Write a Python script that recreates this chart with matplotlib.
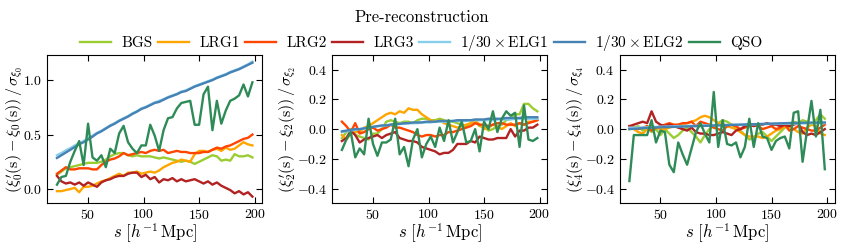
import numpy as np
import matplotlib
matplotlib.use("Agg")
import matplotlib.pyplot as plt

plt.rcParams["font.family"] = "serif"
plt.rcParams["font.serif"] = ["cmr10"]
plt.rcParams["mathtext.fontset"] = "cm"
plt.rcParams["axes.formatter.use_mathtext"] = True

# séparations s (h^-1 Mpc)
s = np.arange(22, 199, 4)

labels = ["BGS", "LRG1", "LRG2", "LRG3",
          r"$1/30\times\mathrm{ELG1}$", r"$1/30\times\mathrm{ELG2}$", "QSO"]
colors = ["yellowgreen", "orange", "orangered", "firebrick",
          "skyblue", "steelblue", "seagreen"]

# --- monopole ---
bgs0 = [0.13, 0.16, 0.19, 0.20, 0.21, 0.22, 0.23, 0.24, 0.24, 0.24, 0.25, 0.27, 0.30, 0.32, 0.33,
        0.33, 0.31, 0.30, 0.31, 0.30, 0.30, 0.30, 0.29, 0.28, 0.29, 0.28, 0.27, 0.26, 0.25, 0.26,
        0.25, 0.23, 0.25, 0.27, 0.29, 0.31, 0.30, 0.26, 0.27, 0.26, 0.32, 0.30, 0.30, 0.31, 0.29]
lrg1_0 = [-0.02, -0.02, -0.01, 0.00, 0.01, -0.03, 0.02, 0.02, 0.03, 0.05, 0.07, 0.08, 0.10, 0.12, 0.14,
          0.12, 0.15, 0.15, 0.16, 0.14, 0.15, 0.16, 0.15, 0.17, 0.20, 0.22, 0.24, 0.25, 0.27, 0.26,
          0.25, 0.32, 0.35, 0.35, 0.34, 0.36, 0.37, 0.35, 0.38, 0.36, 0.37, 0.40, 0.43, 0.41, 0.40]
lrg2_0 = [0.14, 0.17, 0.20, 0.18, 0.18, 0.19, 0.19, 0.19, 0.18, 0.18, 0.22, 0.25, 0.27, 0.28, 0.30,
          0.33, 0.31, 0.32, 0.33, 0.34, 0.33, 0.35, 0.36, 0.35, 0.36, 0.33, 0.34, 0.35, 0.34, 0.34,
          0.33, 0.33, 0.33, 0.34, 0.34, 0.36, 0.38, 0.37, 0.39, 0.40, 0.42, 0.44, 0.46, 0.47, 0.50]
lrg3_0 = [0.12, 0.07, 0.05, 0.06, 0.04, 0.06, 0.03, 0.06, 0.04, 0.02, 0.06, 0.08, 0.09, 0.11, 0.12,
          0.12, 0.14, 0.15, 0.15, 0.11, 0.13, 0.09, 0.11, 0.06, 0.09, 0.08, 0.10, 0.07, 0.09, 0.07,
          0.08, 0.09, 0.07, 0.05, 0.07, 0.04, 0.06, 0.03, 0.01, -0.01, -0.04, -0.02, -0.05, -0.03, -0.07]
elg1_0 = [0.31, 0.33, 0.355, 0.375, 0.40, 0.42, 0.44, 0.465, 0.49, 0.515, 0.535, 0.56, 0.585, 0.605, 0.63,
          0.65, 0.67, 0.695, 0.715, 0.74, 0.755, 0.775, 0.795, 0.81, 0.825, 0.845, 0.86, 0.875, 0.895, 0.905,
          0.925, 0.945, 0.96, 0.975, 0.99, 1.005, 1.025, 1.04, 1.055, 1.075, 1.09, 1.105, 1.125, 1.145, 1.17]
elg2_0 = [0.285, 0.31, 0.335, 0.36, 0.385, 0.41, 0.43, 0.455, 0.48, 0.51, 0.53, 0.555, 0.58, 0.60, 0.625,
          0.645, 0.665, 0.69, 0.71, 0.735, 0.75, 0.77, 0.79, 0.80, 0.82, 0.84, 0.855, 0.87, 0.89, 0.90,
          0.92, 0.94, 0.955, 0.97, 0.985, 1.00, 1.02, 1.035, 1.05, 1.07, 1.085, 1.10, 1.12, 1.14, 1.16]
qso0 = [0.04, 0.11, 0.12, 0.25, 0.35, 0.44, 0.22, 0.60, 0.29, 0.26, 0.31, 0.20, 0.37, 0.33, 0.51,
        0.58, 0.43, 0.37, 0.33, 0.40, 0.40, 0.59, 0.49, 0.35, 0.54, 0.65, 0.66, 0.74, 0.79, 0.80,
        0.81, 0.59, 0.59, 0.87, 0.94, 0.54, 0.81, 0.60, 0.72, 0.81, 0.83, 0.86, 0.96, 0.85, 0.98]

# --- quadrupole ---
bgs2 = [-0.06, -0.02, 0.00, -0.04, -0.05, -0.06, -0.07, -0.03, -0.03, 0.00, 0.05, 0.06, 0.05, 0.04, 0.05,
        0.05, 0.04, 0.06, 0.07, 0.07, 0.06, 0.06, 0.07, 0.06, 0.05, 0.05, 0.04, 0.03, 0.02, 0.04,
        0.05, 0.02, 0.02, -0.01, 0.00, 0.02, 0.03, 0.06, 0.07, 0.10, 0.10, 0.17, 0.17, 0.14, 0.12]
lrg1_2 = [-0.04, -0.07, -0.03, -0.02, -0.02, 0.01, 0.02, 0.04, 0.06, 0.08, 0.10, 0.11, 0.10, 0.12, 0.11,
          0.14, 0.13, 0.13, 0.10, 0.08, 0.06, 0.05, 0.06, 0.04, 0.03, 0.02, 0.01, 0.02, 0.03, 0.04,
          0.06, 0.03, 0.00, 0.01, 0.03, 0.02, 0.00, 0.02, 0.04, 0.02, 0.04, 0.03, 0.05, 0.05, 0.06]
lrg2_2 = [0.05, 0.02, -0.02, 0.04, -0.03, -0.02, 0.00, 0.01, -0.01, 0.00, 0.01, 0.03, 0.01, 0.01, 0.00,
          -0.01, -0.02, -0.04, -0.05, -0.04, -0.04, -0.05, -0.04, -0.04, -0.02, -0.02, -0.01, 0.00, 0.01, 0.02,
          0.04, 0.03, 0.03, 0.02, 0.03, 0.04, 0.04, 0.03, 0.03, 0.03, 0.04, 0.03, 0.04, 0.05, 0.06]
lrg3_2 = [-0.08, -0.06, -0.01, -0.04, -0.09, -0.07, -0.06, -0.05, -0.04, -0.06, -0.04, -0.03, -0.02, -0.06, -0.07,
          -0.08, -0.08, -0.09, -0.12, -0.13, -0.14, -0.15, -0.17, -0.16, -0.16, -0.14, -0.10, -0.10, -0.10, -0.08,
          -0.09, -0.05, -0.06, -0.07, -0.07, -0.06, -0.06, -0.06, 0.00, -0.05, -0.01, -0.01, 0.01, 0.01, 0.03]
elg1_2 = [-0.02, -0.015, -0.01, -0.005, 0.00, 0.005, 0.01, 0.015, 0.02, 0.02, 0.025, 0.03, 0.03, 0.035, 0.035,
          0.04, 0.04, 0.04, 0.045, 0.045, 0.045, 0.05, 0.05, 0.05, 0.05, 0.055, 0.055, 0.055, 0.055, 0.06,
          0.06, 0.06, 0.06, 0.06, 0.06, 0.065, 0.065, 0.065, 0.065, 0.07, 0.07, 0.07, 0.07, 0.07, 0.07]
elg2_2 = [-0.015, -0.01, -0.005, 0.00, 0.00, 0.005, 0.01, 0.015, 0.02, 0.025, 0.025, 0.03, 0.035, 0.035, 0.04,
          0.04, 0.045, 0.045, 0.045, 0.05, 0.05, 0.05, 0.055, 0.055, 0.055, 0.055, 0.06, 0.06, 0.06, 0.06,
          0.065, 0.065, 0.065, 0.07, 0.07, 0.07, 0.07, 0.075, 0.075, 0.075, 0.075, 0.08, 0.08, 0.08, 0.08]
qso2 = [-0.14, -0.07, -0.02, -0.19, -0.13, -0.17, 0.07, -0.10, -0.18, -0.09, -0.09, -0.07, 0.07, -0.17, -0.12,
        -0.25, -0.07, 0.00, -0.19, -0.10, -0.05, -0.12, 0.01, -0.08, 0.06, -0.09, -0.02, 0.05, -0.09, -0.08,
        0.00, -0.15, 0.05, 0.00, 0.12, -0.02, 0.07, 0.12, 0.09, 0.11, -0.12, 0.16, -0.07, -0.08, -0.06]

# --- hexadecapole ---
bgs4 = [0.00, 0.01, 0.02, -0.01, 0.02, -0.02, 0.00, -0.04, 0.00, -0.03, -0.06, -0.04, -0.01, 0.01, -0.02,
        -0.05, -0.09, -0.04, 0.00, 0.02, 0.04, 0.06, 0.05, 0.03, 0.01, -0.01, -0.04, -0.07, -0.06, -0.03,
        -0.02, -0.05, -0.08, -0.05, -0.02, 0.01, 0.03, 0.05, 0.04, 0.06, 0.05, 0.03, 0.06, 0.10, 0.07]
lrg1_4 = [0.01, 0.00, -0.02, -0.03, 0.00, 0.02, 0.01, 0.00, 0.00, 0.01, 0.02, 0.03, 0.03, 0.04, 0.05,
          0.06, 0.08, 0.09, 0.08, 0.06, 0.04, 0.03, 0.02, 0.01, 0.00, -0.02, -0.04, -0.05, -0.05, -0.05,
          -0.06, -0.05, -0.03, -0.01, 0.00, 0.02, 0.01, 0.00, -0.02, -0.03, 0.01, 0.03, 0.02, -0.03, -0.04]
lrg2_4 = [0.02, 0.01, 0.00, 0.01, 0.02, -0.01, 0.01, 0.02, 0.03, 0.04, 0.03, 0.03, 0.04, 0.04, 0.05,
          0.02, 0.05, 0.04, 0.03, 0.01, 0.00, -0.01, 0.02, 0.03, 0.02, 0.00, 0.01, 0.02, 0.03, 0.02,
          0.00, 0.01, 0.02, 0.00, 0.01, 0.03, -0.01, 0.00, 0.02, 0.01, 0.00, -0.01, -0.01, 0.01, 0.03]
lrg3_4 = [0.02, 0.03, 0.04, 0.05, 0.04, 0.12, 0.05, 0.03, 0.02, 0.03, 0.02, 0.01, 0.00, -0.01, 0.01,
          -0.02, -0.03, -0.03, -0.04, -0.04, -0.03, -0.02, -0.03, -0.04, -0.01, 0.00, 0.02, 0.03, 0.02, 0.03,
          0.03, 0.04, 0.03, 0.03, 0.02, 0.03, 0.02, 0.03, 0.04, -0.02, -0.04, -0.03, -0.04, -0.02, 0.00]
elg1_4 = [0.01, 0.01, 0.01, 0.012, 0.012, 0.014, 0.015, 0.016, 0.017, 0.018, 0.019, 0.02, 0.021, 0.022, 0.022,
          0.023, 0.024, 0.025, 0.025, 0.026, 0.027, 0.028, 0.028, 0.029, 0.03, 0.03, 0.031, 0.032, 0.032, 0.033,
          0.034, 0.034, 0.035, 0.035, 0.036, 0.036, 0.037, 0.037, 0.038, 0.038, 0.039, 0.039, 0.04, 0.04, 0.04]
elg2_4 = [0.00, 0.002, 0.004, 0.006, 0.008, 0.01, 0.011, 0.012, 0.013, 0.014, 0.015, 0.016, 0.017, 0.018, 0.019,
          0.02, 0.021, 0.022, 0.023, 0.024, 0.025, 0.026, 0.027, 0.028, 0.029, 0.03, 0.031, 0.032, 0.033, 0.034,
          0.035, 0.036, 0.037, 0.038, 0.039, 0.04, 0.041, 0.042, 0.042, 0.043, 0.043, 0.044, 0.044, 0.045, 0.045]
qso4 = [-0.35, -0.04, -0.04, -0.04, -0.04, 0.06, -0.09, -0.01, -0.02, -0.24, -0.29, -0.09, -0.17, -0.24, -0.13,
        -0.02, 0.04, -0.03, -0.09, 0.25, -0.12, 0.06, -0.10, -0.11, -0.09, -0.19, -0.12, 0.07, -0.12, 0.04,
        -0.05, -0.06, -0.14, -0.08, -0.06, -0.05, -0.13, 0.11, 0.12, -0.22, -0.01, 0.19, -0.05, 0.13, -0.27]

multipoles = [
    [bgs0, lrg1_0, lrg2_0, lrg3_0, elg1_0, elg2_0, qso0],
    [bgs2, lrg1_2, lrg2_2, lrg3_2, elg1_2, elg2_2, qso2],
    [bgs4, lrg1_4, lrg2_4, lrg3_4, elg1_4, elg2_4, qso4],
]
ells = [0, 2, 4]

fig = plt.figure(figsize=(8.43, 2.45), dpi=100)
lefts = [0.056, 0.394, 0.735]
axes = [fig.add_axes([l, 0.170, 0.255, 0.606]) for l in lefts]

for ax, curves, ell in zip(axes, multipoles, ells):
    for y, c, lab in zip(curves, colors, labels):
        ax.plot(s, y, color=c, lw=1.7, label=lab)
    ax.set_xticks([50, 100, 150, 200])
    ax.tick_params(direction="in", top=True, right=True, labelsize=10, length=4.5)
    ax.set_xlabel(r"$s\ [h^{-1}\,\mathrm{Mpc}]$", fontsize=12, labelpad=-0.5)
    ax.set_ylabel(r"$(\xi^{\prime}_%d(\mathrm{s}) - \xi_%d(\mathrm{s}))\,/\,\sigma_{\xi_%d}$"
                  % (ell, ell, ell), fontsize=11.5, labelpad=-1.0)
    if ell > 0:
        ax.set_ylim(-0.5, 0.5)
        ax.set_yticks([-0.4, -0.2, 0.0, 0.2, 0.4])

axes[0].set_yticks([0.0, 0.5, 1.0])

handles, labs = axes[0].get_legend_handles_labels()
leg = fig.legend(handles, labs, loc="upper center", bbox_to_anchor=(0.5, 1.015), ncol=7,
                 frameon=False, fontsize=11, title="Pre-reconstruction", title_fontsize=12,
                 handlelength=2.0, columnspacing=0.35, handletextpad=0.7)

fig.savefig("out.png", dpi=100)
